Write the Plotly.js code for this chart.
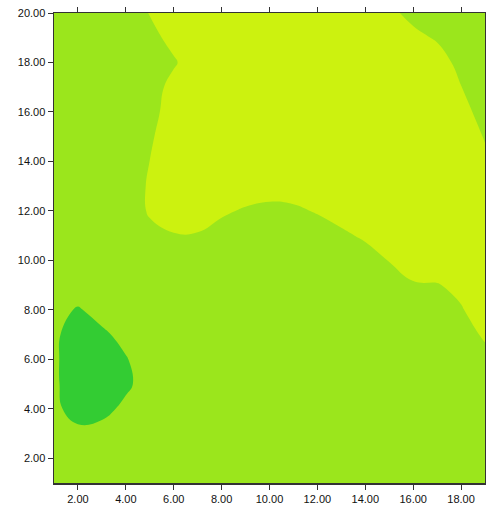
<!DOCTYPE html>
<html>
<head>
<meta charset="utf-8">
<script src="https://cdn.plot.ly/plotly-3.0.1.min.js"></script>
<style>html,body{margin:0;padding:0;background:#fff}#chart{width:486px;height:505px}</style>
</head>
<body>
<div id="chart"></div>
<script>
// grid coordinates
const xVals = [1,2,3,4,5,6,7,8,9,10,11,12,13,14,15,16,17,18,19];
const yVals = [1,2,3,4,5,6,7,8,9,10,11,12,13,14,15,16,17,18,19,20];
// z values, one row per y (y = 1 at the first row)
const zY1  = [2,2,2,2,2,2,2,2,2,2,2,2,2,2,2,2,2,2,2];
const zY2  = [2,2,2,2,2,2,2,2,2,2,2,2,2,2,2,2,2,2,2];
const zY3  = [1.78,1.3,1.52,1.7,2,2,2,2,2,2,2,2,2,2,2,2,2,2,2];
const zY4  = [1.27,0.51,0.57,1.32,2,2,2,2,2,2,2,2,2,2,2,2,2,2,2];
const zY5  = [1.23,0.23,0,0.73,1.65,2,2,2,2,2,2,2,2,2,2,2,2,2,2];
const zY6  = [1.22,0.22,0.05,0.91,1.78,2,2,2,2,2,2,2,2,2,2,2,2,2,2.58];
const zY7  = [1.28,0.25,0.75,1.42,2,2,2,2,2,2,2,2,2,2,2,2,2,2.4,3.2];
const zY8  = [1.51,0.87,1.52,2,2,2,2,2,2,2,2,2,2,2,2,2,2.1,2.89,3.76];
const zY9  = [2,1.8,2,2,2,2,2,2,2,2,2,2,2,2,2.32,2.86,2.92,3.37,4];
const zY10 = [2,2,2,2,2,2,2,2,2,2,2,2,2,2.35,3.05,3.7,3.85,4,4];
const zY11 = [2,2,2,2,2.62,2.88,2.88,2.4,2,2,2,2.24,2.72,3.22,3.79,4,4,4,4];
const zY12 = [2,2,2,2.16,3.15,3.88,3.79,3.23,2.83,2.63,2.73,3.12,3.6,4,4,4,4,4,4];
const zY13 = [2,2,2,2.17,3.17,4,4,4,3.83,3.63,3.73,4,4,4,4,4,4,4,3.66];
const zY14 = [2,2,2,2.01,3.01,4,4,4,4,4,4,4,4,4,4,4,4,4,3.28];
const zY15 = [2,2,2,2,2.81,3.81,4,4,4,4,4,4,4,4,4,4,4,3.83,2.91];
const zY16 = [2,2,2,2,2.58,3.58,4,4,4,4,4,4,4,4,4,4,4,3.43,2.52];
const zY17 = [2,2,2,2,2.41,3.41,4,4,4,4,4,4,4,4,4,4,3.94,3.03,2.11];
const zY18 = [2,2,2,2,2.1,2.85,3.78,4,4,4,4,4,4,4,4,4,3.55,2.63,2];
const zY19 = [2,2,2,2,2.59,3.41,4,4,4,4,4,4,4,4,3.8,3.34,2.87,2.15,2];
const zY20 = [2,2,2,2.19,3.06,3.93,4,4,4,4,4,4,4,4,3.3,2.63,2,2,2];
const zRows = [zY1,zY2,zY3,zY4,zY5,zY6,zY7,zY8,zY9,zY10,zY11,zY12,zY13,zY14,zY15,zY16,zY17,zY18,zY19,zY20];

const xTicks = [2,4,6,8,10,12,14,16,18];
const yTicks = [2,4,6,8,10,12,14,16,18,20];
const bandColors = ['#33cc33', '#9be61c', '#ccf20f'];

const trace = {
  type: 'contour',
  x: xVals, y: yVals, z: zRows,
  zmin: 0, zmax: 4,
  autocontour: false,
  contours: {start: 1, end: 3, size: 2, coloring: 'fill', showlines: false},
  line: {width: 0, smoothing: 1.3},
  colorscale: [[0, bandColors[0]], [0.25, bandColors[0]], [0.25, bandColors[1]],
               [0.75, bandColors[1]], [0.75, bandColors[2]], [1, bandColors[2]]],
  showscale: false,
  hoverinfo: 'skip'
};

const axisCommon = {
  showgrid: false, zeroline: false,
  showline: true, linecolor: '#333', linewidth: 1.5,
  mirror: 'ticks', ticks: 'outside', ticklen: 5, tickwidth: 1, tickcolor: '#333',
  tickformat: '.2f',
  tickfont: {family: 'Liberation Sans, Arial, sans-serif', size: 11, color: '#111'}
};

const layout = {
  width: 486, height: 505,
  margin: {l: 54, r: 1, t: 13, b: 22},
  paper_bgcolor: '#ffffff', plot_bgcolor: '#ffffff',
  showlegend: false,
  xaxis: Object.assign({}, axisCommon, {range: [1, 19], tickvals: xTicks}),
  yaxis: Object.assign({}, axisCommon, {range: [1, 20], tickvals: yTicks})
};

Plotly.newPlot('chart', [trace], layout, {staticPlot: true, displayModeBar: false});
</script>
</body>
</html>
